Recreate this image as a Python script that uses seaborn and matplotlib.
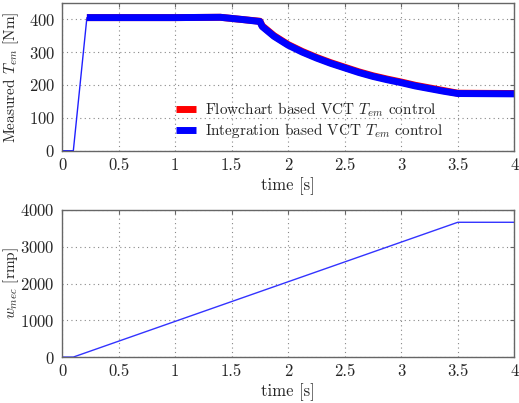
import matplotlib
matplotlib.use("Agg")
import matplotlib.pyplot as plt
import matplotlib.ticker as mticker
import seaborn as sns
import pandas as pd

# --- data ---
t_torque = [0.0, 0.1, 0.22, 0.5, 1.0, 1.4, 1.6, 1.75, 1.77, 1.875, 2.0, 2.125,
            2.25, 2.375, 2.5, 2.625, 2.75, 2.875, 3.0, 3.125, 3.25, 3.375, 3.5, 4.0]
torque_flow = [0, 0, 405, 405, 405, 406, 399, 394, 380, 350, 323, 302,
               284, 268, 254, 240, 228, 218, 209, 199, 191, 183, 175, 174]
torque_int = [0, 0, 405, 405, 405, 406, 399, 393, 378, 348, 321, 300,
              282, 266, 252, 238, 226, 216, 207, 197, 189, 181, 174, 173]

t_speed = [0.0, 0.1, 3.5, 4.0]
speed = [0, 0, 3665, 3665]

x_ticks = [0, 0.5, 1, 1.5, 2, 2.5, 3, 3.5, 4]

sns.set_style("white")
plt.rcParams["font.family"] = ["cmr10", "DejaVu Serif"]
plt.rcParams["mathtext.fontset"] = "cm"
plt.rcParams["axes.formatter.use_mathtext"] = True
plt.rcParams["font.size"] = 12

df_tq = pd.DataFrame({"t": t_torque, "flow": torque_flow, "int": torque_int})
df_sp = pd.DataFrame({"t": t_speed, "w": speed})

fig = plt.figure(figsize=(5.19, 4.03), dpi=100)
ax1 = fig.add_axes([0.1195, 0.626, 0.8715, 0.367])
ax2 = fig.add_axes([0.1195, 0.114, 0.8715, 0.365])

# thin start-up part
sns.lineplot(data=df_tq.iloc[:3], x="t", y="int", ax=ax1, color="#2020ff",
             lw=1, sort=False, estimator=None)
# thick steady part (noise band)
sns.lineplot(data=df_tq.iloc[2:], x="t", y="flow", ax=ax1, color="#ff0000",
             lw=5, sort=False, estimator=None, solid_capstyle="butt",
             label=r"Flowchart based VCT $T_{em}$ control")
sns.lineplot(data=df_tq.iloc[2:], x="t", y="int", ax=ax1, color="#0000ff",
             lw=5, sort=False, estimator=None, solid_capstyle="butt",
             label=r"Integration based VCT $T_{em}$ control")

sns.lineplot(data=df_sp, x="t", y="w", ax=ax2, color="#3333ff", lw=1,
             sort=False, estimator=None)

for ax in (ax1, ax2):
    ax.set_xlim(0, 4)
    ax.set_xticks(x_ticks)
    ax.xaxis.set_major_formatter(mticker.FormatStrFormatter("%g"))
    ax.grid(True, ls=(0, (1, 3)), color="#888888", lw=0.8)
    ax.tick_params(direction="in", top=True, right=True, length=3,
                   color="#666666", labelsize=12, pad=5)
    for s in ax.spines.values():
        s.set_color("#666666")
        s.set_linewidth(1)
    ax.set_xlabel("time [s]", fontsize=12, labelpad=3)
    ax.yaxis.set_label_coords(-0.09, 0.5)

ax1.set_ylim(0, 450)
ax1.set_yticks([0, 100, 200, 300, 400])
ax1.set_ylabel(r"Measured $T_{em}$ [Nm]", fontsize=11)

ax2.set_ylim(0, 4000)
ax2.set_yticks([0, 1000, 2000, 3000, 4000])
ax2.set_ylabel(r"$w_{mec}$ [rmp]", fontsize=11)

leg = ax1.legend(loc="lower left", bbox_to_anchor=(0.235, 0.02), frameon=False,
                 fontsize=11, handlelength=1.3, handletextpad=0.6,
                 labelspacing=0.15, borderpad=0)
for h in leg.legend_handles:
    h.set_solid_capstyle("butt")

fig.savefig("out.png", dpi=100)
